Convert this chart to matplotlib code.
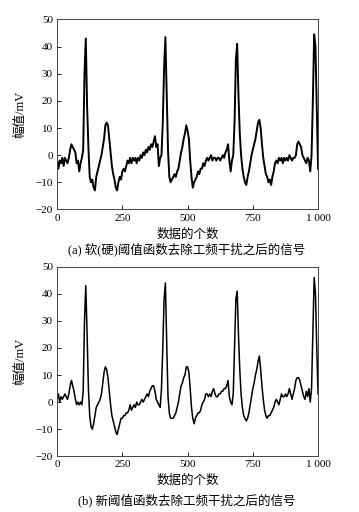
"""软(硬)阈值与新阈值函数去除工频干扰后的心电信号对比图."""

import matplotlib

matplotlib.use("Agg")
import matplotlib.pyplot as plt
import numpy as np

plt.rcParams["font.family"] = ["Liberation Serif", "Noto Sans CJK SC"]
plt.rcParams["axes.unicode_minus"] = True

# 采样点序号 (每 5 点读一个值)
sample_index = np.arange(0, 1001, 5)

# (a) 软(硬)阈值函数去噪后的信号 / mV
signal_soft_hard = [
    -2, -5, -2, -3, -1, -4, -1, -2, -3, -1,
    2, 4, 3, 2, 1, -3, -2, -6, -3, -1,
    2, 30, 43, 18, 3, -8, -10, -9, -12, -13,
    -8, -6, -4, -2, 0, 3, 6, 11, 12, 11,
    6, 1, -4, -7, -9, -12, -13, -10, -8, -9,
    -6, -5, -6, -4, -2, -3, -1, -3, -1, -2,
    -1, -3, -1, -2, 0, -1, 1, 0, 2, 1,
    3, 2, 4, 3, 5, 7, 3, 4, -4, -1,
    0, 12, 32, 43.5, 22, 2, -8, -10, -9, -8,
    -7, -8, -6, -5, -2, 1, 3, 6, 8, 11,
    9, 6, -2, -8, -12, -10, -9, -8, -6, -7,
    -5, -5, -3, -4, -2, -1, -2, -1, 0, -2,
    -1, -1, -2, -1, -1, -2, -1, 0, -1, 1,
    2, 4, -2, -6, -2, 0, 12, 35, 41, 22,
    8, 0, -5, -8, -10, -11, -8, -6, -3, 0,
    2, 4, 6, 9, 12, 13, 10, 4, -1, -4,
    -7, -8, -10, -9, -11, -8, -6, -3, -2, -3,
    -1, -2, -1, -3, -1, -2, -1, -2, 0, -1,
    -2, -1, -1, 0, 4, 5, 4, 3, 0, -1,
    -2, -3, -1, -2, -6, 0, 20, 44.5, 40, 18,
    -5,
]

# (b) 新阈值函数去噪后的信号 / mV
signal_new = [
    1, 3, 0, 2, 1, 2, 3, 2, 1, 3,
    6, 8, 6, 4, 1, -1, 0, -1, 0, -1,
    4, 30, 43, 25, 5, -5, -9, -10, -8, -5,
    -2, -1, 0, 1, 3, 7, 11, 13, 12, 9,
    4, -1, -5, -7, -9, -11, -12, -10, -8, -6,
    -6, -5, -5, -4, -4, -3, -1, -3, -2, -1,
    -2, 0, -1, -1, 0, 1, 0, 1, 2, 3,
    2, 4, 5, 6, 6, 4, 1, 0, -1, -2,
    5, 20, 38, 44, 22, 2, -4, -6, -6, -6,
    -5, -4, -2, 0, 3, 6, 7, 9, 10, 13,
    13, 11, 5, -2, -6, -8, -6, -5, -4, -4,
    -3, -1, 0, 1, 3, 3, 2, 3, 2, 4,
    5, 3, 2, 2, 3, 3, 4, 4, 5, 5,
    6, 8, 2, 0, -1, 3, 20, 38, 41, 25,
    12, 3, -2, -5, -6, -7, -6, -4, -1, 2,
    5, 7, 10, 12, 15, 17, 12, 6, 1, -3,
    -5, -6, -5, -5, -4, -3, -2, 0, 1, 0,
    -1, 1, 3, 2, 2, 3, 2, 3, 5, 3,
    1, 3, 5, 8, 9, 9, 8, 6, 4, 2,
    1, 4, 2, 5, 0, 5, 25, 46, 40, 20,
    3,
]

panels = [
    (signal_soft_hard, "(a) 软(硬)阈值函数去除工频干扰之后的信号", 1.4),
    (signal_new, "(b) 新阈值函数去除工频干扰之后的信号", 1.1),
]
axes_rects = [
    [0.159, 0.591, 0.727, 0.371],
    [0.159, 0.109, 0.727, 0.370],
]
caption_y = [0.512, 0.023]

fig = plt.figure(figsize=(3.59, 5.12), dpi=100)

for (values, caption, lw), rect, cy in zip(panels, axes_rects, caption_y):
    ax = fig.add_axes(rect)
    ax.plot(sample_index, values, color="black", linewidth=lw)
    ax.set_xlim(0, 1000)
    ax.set_ylim(-20, 50)
    ax.set_xticks([0, 250, 500, 750, 1000])
    ax.set_xticklabels(["0", "250", "500", "750", "1 000"])
    ax.set_yticks([-20, -10, 0, 10, 20, 30, 40, 50])
    ax.tick_params(direction="in", length=3, width=0.6, labelsize=8,
                   top=False, right=False, pad=3)
    for spine in ax.spines.values():
        spine.set_linewidth(0.7)
        spine.set_color("#444444")
    ax.set_ylabel("幅值/mV", fontsize=9)
    ax.yaxis.set_label_coords(-0.12, 0.5)
    ax.set_xlabel("数据的个数", fontsize=9)
    ax.xaxis.set_label_coords(0.5, -0.1)
    fig.text(0.52, cy, caption, ha="center", va="center", fontsize=9)

fig.savefig("out.png", dpi=100)
